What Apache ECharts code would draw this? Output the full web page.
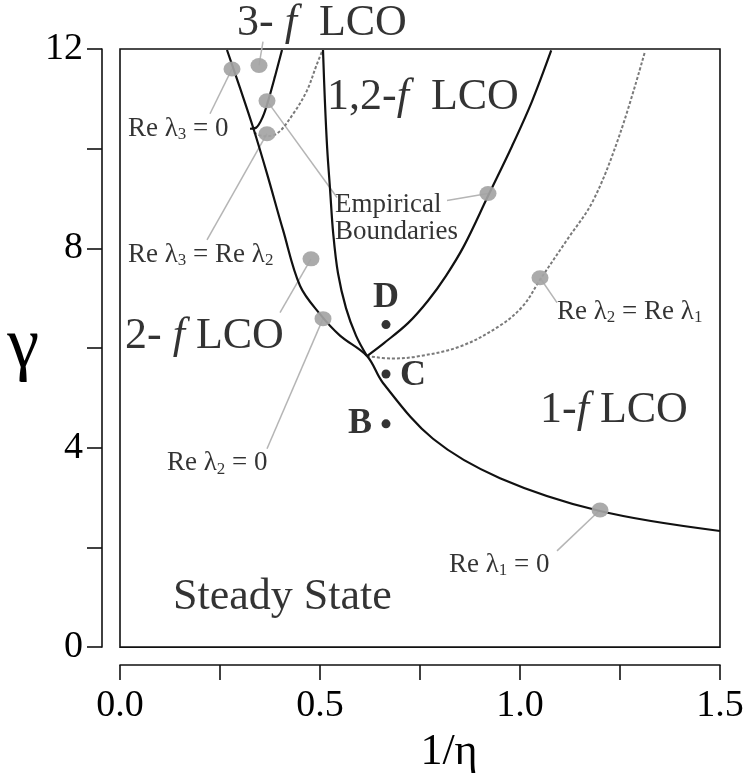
<!DOCTYPE html>
<html>
<head>
<meta charset="utf-8">
<script src="https://cdn.jsdelivr.net/npm/echarts@6/dist/echarts.min.js"></script>
<style>
  html, body { margin: 0; padding: 0; background: #fff; }
  #chart { width: 747px; height: 779px; }
</style>
</head>
<body>
<div id="chart"></div>
<script>
// Stability boundaries in the (1/eta, gamma) plane
const hopfCurve = [[0.2675,11.98],[0.30,11.22],[0.333,10.42],[0.3675,9.5],[0.4075,8.37],[0.45,7.25],[0.50,6.68],[0.55,6.25],[0.6175,5.84],[0.6575,5.3],[0.7825,4.18],[0.95,3.39],[1.2,2.73],[1.5,2.33]];
const threeFreqEdge = [[0.325,10.4],[0.34,10.42],[0.3575,10.65],[0.37,10.95],[0.3875,11.45],[0.405,11.98]];
const lambda32Curve = [[0.335,10.32],[0.36,10.25],[0.392,10.3],[0.433,10.7],[0.467,11.16],[0.492,11.69],[0.505,11.95]];
const twoFreqEdge = [[0.5075,11.98],[0.512,11.0],[0.518,10.0],[0.525,9.2],[0.533,8.3],[0.545,7.5],[0.565,6.8],[0.59,6.25],[0.6175,5.84]];
const oneTwoFreqEdge = [[0.6175,5.84],[0.66,6.1],[0.72,6.5],[0.77,6.95],[0.815,7.45],[0.86,8.05],[0.92,9.05],[0.98,10.05],[1.03,10.95],[1.078,11.97]];
const lambda21Curve = [[0.6175,5.84],[0.68,5.79],[0.7425,5.83],[0.85,6.03],[0.95,6.45],[1.008,6.85],[1.05,7.37],[1.1175,8.17],[1.183,8.96],[1.25,10.3],[1.3125,11.95]];

// Sample points B, C, D
const samplePoints = [[0.665,4.48],[0.665,5.48],[0.665,6.47]];
const sampleNames = ['B','C','D'];
const sampleLabelAt = [[0.6,4.48],[0.7325,5.44],[0.665,7.01]];

// Callout markers and the ends of their leader lines
const calloutDots = [[0.28,11.6],[0.3475,11.67],[0.3675,10.96],[0.3675,10.3],[0.4775,7.79],[0.5075,6.59],[0.92,9.1],[1.05,7.41],[1.2,2.75]];
const leaderEnds = [[0.225,10.7],[0.3575,12.15],[0.5425,9.02],[0.2175,8.17],[0.40,6.71],[0.3675,3.98],[0.8175,8.96],[1.0925,6.91],[1.0925,1.93]];

// Annotation text and where it sits
const eigenLabels = [
  {text: '{t|Re λ}{s|3}{t| = 0}', at: [0.02,10.4]},
  {text: '{t|Re λ}{s|3}{t| = Re λ}{s|2}', at: [0.02,7.87]},
  {text: '{t|Re λ}{s|2}{t| = 0}', at: [0.1175,3.69]},
  {text: '{t|Re λ}{s|2}{t| = Re λ}{s|1}', at: [1.0925,6.73]},
  {text: '{t|Re λ}{s|1}{t| = 0}', at: [0.8225,1.65]}
];
const regionLabels = [
  {text: '{n|1,2-}{i|f}{n|  LCO}', at: [0.5175,11.02]},
  {text: '{n|2- }{i|f}{n| LCO}', at: [0.0125,6.24]},
  {text: '{n|1-}{i|f}{n| LCO}', at: [1.05,4.74]},
  {text: '{n|Steady State}', at: [0.1325,1.0]}
];
const topLabel = {text: '{n|3- }{i|f}{n|  LCO}', at: [0.2925,12.52]};
const empiricalLabel = {text: 'Empirical\nBoundaries', at: [0.5375,8.6]};

const xTicks = [0, 0.5, 1.0, 1.5];
const yTicks = [0, 4, 8, 12];

const SERIF = '"Liberation Serif", "DejaVu Serif", serif';
const chart = echarts.init(document.getElementById('chart'), null, {renderer: 'canvas'});

const smallRich = {
  t: {fontFamily: SERIF, fontSize: 27, color: '#000'},
  s: {fontFamily: SERIF, fontSize: 17, color: '#000', padding: [12, 0, 0, 0]}
};
const bigRich = {
  n: {fontFamily: SERIF, fontSize: 44, color: '#000'},
  i: {fontFamily: SERIF, fontSize: 44, color: '#000', fontStyle: 'italic'}
};

function curve(data, dashed) {
  return {
    type: 'line', data: data, smooth: 0.35, symbol: 'none', clip: false, silent: true,
    lineStyle: dashed ? {color: '#7a7a7a', width: 2, type: [3, 2]} : {color: '#111', width: 2.2},
    z: dashed ? 3 : 4
  };
}

function textSeries(items, rich, position, z) {
  return {
    type: 'scatter', symbolSize: 0, clip: false, silent: true, z: z || 6,
    data: items.map(d => ({value: d.at, label: {formatter: d.text}})),
    label: {show: true, position: position, distance: 0, rich: rich}
  };
}

const series = [];
// leader lines
calloutDots.forEach((p, i) => {
  series.push({
    type: 'line', data: [p, leaderEnds[i]], symbol: 'none', clip: false, silent: true,
    lineStyle: {color: '#b5b5b5', width: 1.5}, z: 2
  });
});
series.push(curve(lambda32Curve, true));
series.push(curve(lambda21Curve, true));
series.push(curve(hopfCurve, false));
series.push(curve(threeFreqEdge, false));
series.push(curve(twoFreqEdge, false));
series.push(curve(oneTwoFreqEdge, false));
// grey callout dots
series.push({
  type: 'scatter', data: calloutDots, symbol: 'circle', symbolSize: [17, 15], clip: false, silent: true,
  itemStyle: {color: '#a4a4a4', opacity: 0.92}, z: 5
});
// sample points
series.push({
  type: 'scatter', data: samplePoints, symbol: 'circle', symbolSize: 9, silent: true,
  itemStyle: {color: '#000'}, z: 7
});
series.push({
  type: 'scatter', symbolSize: 0, clip: false, silent: true, z: 7,
  data: sampleLabelAt.map((p, i) => ({value: p, label: {formatter: sampleNames[i]}})),
  label: {show: true, position: 'inside', fontFamily: SERIF, fontSize: 36, fontWeight: 'bold', color: '#000'}
});
series.push(textSeries(eigenLabels, smallRich, 'right'));
series.push(textSeries(regionLabels, bigRich, 'right'));
series.push(textSeries([topLabel], bigRich, 'right'));
series.push({
  type: 'scatter', symbolSize: 0, clip: false, silent: true, z: 6,
  data: [{value: empiricalLabel.at}],
  label: {show: true, position: 'right', distance: 0, formatter: empiricalLabel.text,
          fontFamily: SERIF, fontSize: 27, lineHeight: 27, color: '#000'}
});

chart.setOption({
  animation: false,
  backgroundColor: '#fff',
  grid: {left: 120, right: 27, top: 49, bottom: 129, show: true, borderColor: '#111', borderWidth: 1.6, backgroundColor: 'transparent'},
  xAxis: {
    type: 'value', min: 0, max: 1.5, interval: 0.25, offset: 18,
    name: '1/η', nameLocation: 'middle', nameGap: 64,
    nameTextStyle: {fontFamily: SERIF, fontSize: 44, color: '#000', padding: [0, 0, 0, 58]},
    axisLine: {show: true, onZero: false, lineStyle: {color: '#111', width: 1.6}},
    axisTick: {show: true, inside: false, length: 15, lineStyle: {color: '#111', width: 1.6}},
    axisLabel: {
      fontFamily: SERIF, fontSize: 38, color: '#000', margin: 22,
      formatter: v => (xTicks.some(t => Math.abs(t - v) < 1e-9) ? v.toFixed(1) : '')
    },
    splitLine: {show: false}
  },
  yAxis: {
    type: 'value', min: 0, max: 12, interval: 2, offset: 18,
    name: 'γ', nameLocation: 'middle', nameGap: 51, nameRotate: 0,
    nameTextStyle: {fontFamily: SERIF, fontSize: 72, color: '#000', padding: [0, 0, 64, 0]},
    axisLine: {show: true, onZero: false, lineStyle: {color: '#111', width: 1.6}},
    axisTick: {show: true, inside: false, length: 15, lineStyle: {color: '#111', width: 1.6}},
    axisLabel: {
      fontFamily: SERIF, fontSize: 38, color: '#000', margin: 19,
      formatter: v => (yTicks.indexOf(v) >= 0 ? String(v) : '')
    },
    splitLine: {show: false}
  },
  series: series
});
</script>
</body>
</html>
